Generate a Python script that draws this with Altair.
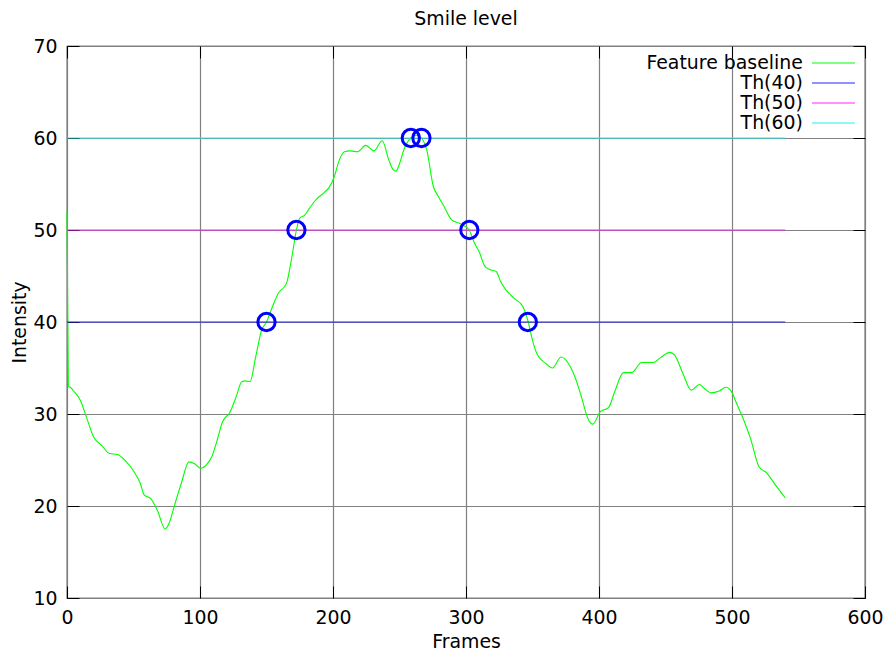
import altair as alt
import pandas as pd

# Feature baseline curve
frames = [0, 1, 2.5, 5, 10, 15, 20, 26, 32, 38, 44, 50.5, 55, 58, 63, 68, 73.8, 77, 80.5, 86,
          91.7, 96, 100.4, 105, 109, 113, 116.5, 122.7, 127, 131.4, 134, 137.6, 142, 146.3, 150,
          154, 158.8, 165, 169, 172.5, 175, 178.6, 182, 186, 193.5, 197, 201, 204, 208.5, 213,
          218.4, 224.6, 230.8, 237, 242, 245, 247.4, 250, 253.2, 258.5, 263, 266.5, 270.5, 275.5,
          279, 283, 289.2, 295.4, 302.4, 306, 310.3, 314, 317.7, 322.7, 326, 330, 336, 342.6,
          346.8, 350, 353.8, 360, 365, 371.5, 378.6, 382, 386, 392.3, 395.3, 401, 407.2, 412,
          418.4, 424.6, 432, 440.7, 446.9, 453.2, 456.9, 463.1, 469.3, 475.5, 479, 484.2, 490.4,
          495.4, 500.3, 503, 507.8, 514, 520.2, 526.4, 532.6, 540]
intensity = [52, 33, 32.9, 32.5, 31.5, 29.5, 27.5, 26.6, 25.7, 25.6, 24.9, 23.7, 22.5, 21.2, 20.8,
             19.5, 17.5, 18.2, 19.9, 22.5, 24.8, 24.6, 24.1, 24.5, 25.4, 27.2, 29, 30.25, 31.8,
             33.5, 33.6, 33.5, 36.3, 39.1, 40, 41.5, 43.1, 44.2, 47, 50, 51.3, 51.6, 52.3, 53.1,
             54.1, 54.6, 55.8, 57.3, 58.5, 58.6, 58.5, 59.2, 58.6, 59.7, 57.6, 56.6, 56.4, 57.2,
             58.7, 60, 60.3, 60, 58.7, 54.7, 53.7, 52.7, 51.1, 50.7, 50, 48.7, 47.5, 46.1, 45.7,
             45.5, 44.4, 43.5, 42.6, 41.7, 40, 38, 36.4, 35.5, 35, 36.2, 35.1, 34, 32.25, 29.3,
             28.9, 30.25, 30.7, 32.5, 34.5, 34.5, 35.6, 35.6, 36.2, 36.7, 36.4, 34.4, 32.6, 33.2,
             32.8, 32.3, 32.5, 32.9, 32.25, 31.3, 29.7, 27.3, 24.3, 23.55, 22.3, 20.9]

# Threshold lines
thresholds = [40, 50, 60]
threshold_names = ["Th(40)", "Th(50)", "Th(60)"]
threshold_span = [0, 540]

# Crossing markers
cross_frames = [150, 172.5, 258.5, 266.5, 302.5, 346.5]
cross_values = [40, 50, 60, 60, 50, 40]

series_names = ["Feature baseline"] + threshold_names
series_colors = ["#00ff00", "#2424ff", "#ff22ff", "#22f0f0"]

x_ticks = [0, 100, 200, 300, 400, 500, 600]
y_ticks = [10, 20, 30, 40, 50, 60, 70]

rows = [{"frame": f, "value": v, "series": "Feature baseline"} for f, v in zip(frames, intensity)]
for name, th in zip(threshold_names, thresholds):
    for f in threshold_span:
        rows.append({"frame": f, "value": th, "series": name})
lines_df = pd.DataFrame(rows)
cross_df = pd.DataFrame({"frame": cross_frames, "value": cross_values})

FONT = "DejaVu Sans"
FS = 18.9

x_scale = alt.Scale(domain=[0, 600], nice=False)
y_scale = alt.Scale(domain=[10, 70], nice=False)

lines = alt.Chart(lines_df).mark_line(strokeWidth=1.1, interpolate="monotone").encode(
    x=alt.X("frame:Q", scale=x_scale, title="Frames",
            axis=alt.Axis(values=x_ticks, orient="bottom",
                          offset=-12, tickSize=12, tickColor="black", domain=False,
                          labelPadding=10, labelFlush=False, grid=True, titlePadding=6)),
    y=alt.Y("value:Q", scale=y_scale, title="Intensity",
            axis=alt.Axis(values=y_ticks, orient="left",
                          offset=-12, tickSize=12, tickColor="black", domain=False,
                          labelPadding=10, grid=True, titlePadding=3)),
    color=alt.Color("series:N",
                    scale=alt.Scale(domain=series_names, range=series_colors),
                    sort=series_names,
                    legend=alt.Legend(orient="none", legendX=757, legendY=7.5, title=None,
                                      symbolType="M-4,0H4", symbolSize=115.6,
                                      symbolStrokeWidth=1.1, labelAlign="right",
                                      labelOffset={"expr": "-40"}, labelFontSize=FS,
                                      labelFont=FONT, labelColor="black", labelLimit=300,
                                      rowPadding=0, padding=0)),
)

points = alt.Chart(cross_df).mark_point(shape="circle", filled=False, stroke="#0000ff",
                                         strokeWidth=3, size=300, opacity=1).encode(
    x=alt.X("frame:Q", scale=x_scale,
            axis=alt.Axis(values=x_ticks, orient="top",
                          offset=-12, tickSize=12, tickColor="black", domain=False,
                          labels=False, grid=False, title=None)),
    y=alt.Y("value:Q", scale=y_scale,
            axis=alt.Axis(values=y_ticks, orient="right",
                          offset=-12, tickSize=12, tickColor="black", domain=False,
                          labels=False, grid=False, title=None)),
)

chart = alt.layer(lines, points).resolve_axis(x="independent", y="independent").properties(
    width=798, height=552,
    autosize=alt.AutoSizeParams(type="none"),
    padding={"left": 59, "top": 38, "right": 19, "bottom": 57},
    background="white",
    title=alt.Title("Smile level", font=FONT, fontSize=FS, fontWeight="normal",
                    color="black", offset=8),
).configure_view(stroke="black", strokeWidth=1.2).configure_axis(
    labelFont=FONT, labelFontSize=FS, labelColor="black",
    titleFont=FONT, titleFontSize=FS, titleColor="black", titleFontWeight="normal",
    gridColor="#808080", gridWidth=1.2, gridOpacity=1, tickWidth=1,
).configure_legend(rowPadding=0)

chart.save("out.html", embed_options={"renderer": "svg", "actions": False})
